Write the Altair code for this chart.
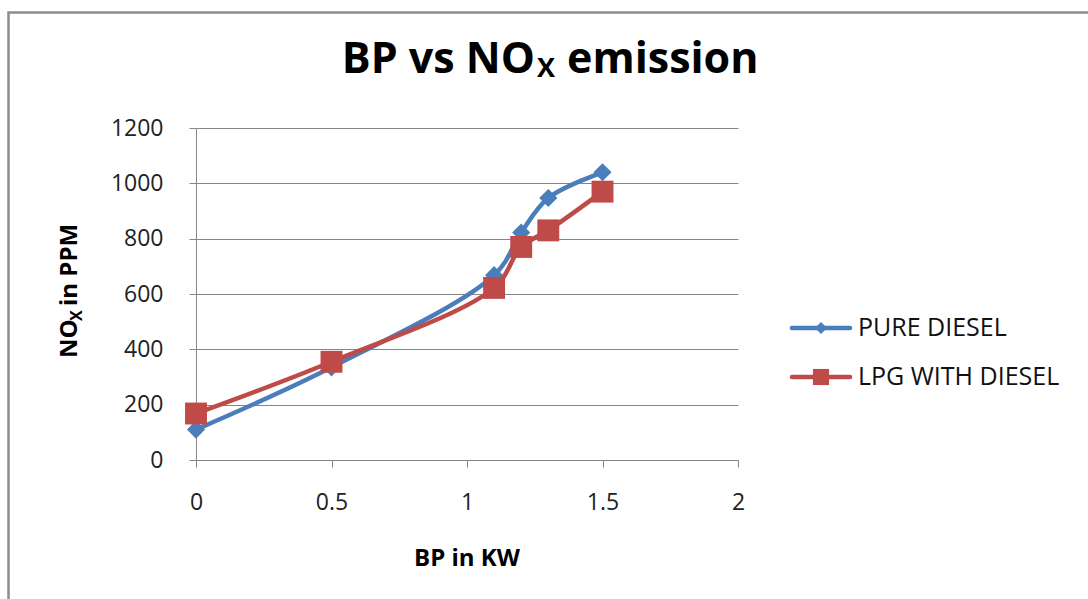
import altair as alt
import pandas as pd

# ---- data ----
bp = [0, 0.5, 1.1, 1.2, 1.3, 1.5]
pure_diesel = [110, 335, 668, 822, 947, 1040]
lpg_with_diesel = [168, 355, 622, 770, 830, 970]
series_names = ["PURE DIESEL", "LPG WITH DIESEL"]
series_colors = ["#4A7EBB", "#BE4B48"]
series_shapes = ["diamond", "square"]
x_ticks = [0, 0.5, 1, 1.5, 2]
y_ticks = [0, 200, 400, 600, 800, 1000, 1200]

rows = []
for name, vals in zip(series_names, [pure_diesel, lpg_with_diesel]):
    for xv, yv in zip(bp, vals):
        rows.append({"BP": xv, "NOx": yv, "series": name})
df = pd.DataFrame(rows)

FONT = "Open Sans"
W, H = 542, 332

xscale = alt.Scale(domain=[0, 2], nice=False)
yscale = alt.Scale(domain=[0, 1200], nice=False)
color = alt.Color("series:N", scale=alt.Scale(domain=series_names, range=series_colors), legend=None)

x_enc = alt.X("BP:Q", scale=xscale, axis=alt.Axis(
    values=x_ticks, grid=False, title=None, tickSize=7, labelPadding=24, format="~g",
    labelFontSize=23, labelFont=FONT, labelColor="#222222",
    domainColor="#868686", tickColor="#868686", labelFlush=False))
y_enc = alt.Y("NOx:Q", scale=yscale, axis=alt.Axis(
    values=y_ticks, grid=True, gridColor="#868686", gridWidth=1, title=None, format="d",
    tickSize=7, labelPadding=26, labelFontSize=23, labelFont=FONT, labelColor="#222222",
    domainColor="#868686", tickColor="#868686"))

base = alt.Chart(df)

lines = base.mark_line(strokeWidth=4.5, interpolate="catmull-rom").encode(
    x=x_enc, y=y_enc, color=color, detail="series:N")

pts_layers = []
for name, shp, sz in zip(series_names, series_shapes, [330, 480]):
    pts_layers.append(
        alt.Chart(df[df["series"] == name]).mark_point(
            shape=shp, filled=True, opacity=1, size=sz).encode(
            x=alt.X("BP:Q", scale=xscale), y=alt.Y("NOx:Q", scale=yscale), color=color))

# outer chart frame
frame = alt.Chart(pd.DataFrame({"a": [0]})).mark_rect(
    fill=None, stroke="#8c8c8c", strokeWidth=2.5).encode(
    x=alt.value(-187.5), x2=alt.value(910), y=alt.value(-115.5), y2=alt.value(500))

def txt(s, x, y, size, bold=True, align="left", angle=0, baseline="alphabetic"):
    kw = dict(text=s, font=FONT, fontSize=size, fontWeight="bold" if bold else "normal",
              align=align, baseline=baseline, color="#000000")
    if angle:
        kw["angle"] = angle
    return alt.Chart(pd.DataFrame({"a": [0]})).mark_text(**kw).encode(
        x=alt.value(x), y=alt.value(y))

# title "BP vs NO_X emission"
title_layers = [
    txt("BP vs NO", 339, -55, 43, align="right"),
    txt("X", 341, -51, 27, align="left"),
    txt("emission", 371, -55, 43, align="left"),
]
# y axis title "NO_X in PPM" (rotated)
ytitle_layers = [
    txt("NO", -119, 230, 24, angle=270, align="left"),
    txt("X", -114, 193, 16, angle=270, align="left"),
    txt("in PPM", -119, 178, 24, angle=270, align="left"),
]
xtitle = txt("BP in KW", 271, 438, 24, align="center")

# legend
legend_layers = []
for i, (name, col, shp, sz) in enumerate(zip(series_names, series_colors, series_shapes, [150, 260])):
    ly = 200 + 49 * i
    one = pd.DataFrame({"series": [name]})
    legend_layers.append(alt.Chart(one).mark_rule(strokeWidth=4.5, color=col, strokeCap="round").encode(
        x=alt.value(596), x2=alt.value(654), y=alt.value(ly)))
    legend_layers.append(alt.Chart(one).mark_point(shape=shp, filled=True, opacity=1, size=sz, color=col).encode(
        x=alt.value(625), y=alt.value(ly)))
    legend_layers.append(alt.Chart(one).mark_text(
        font=FONT, fontSize=25, align="left", baseline="middle", color="#111111").encode(
        x=alt.value(662), y=alt.value(ly), text="series:N"))

chart = alt.layer(
    frame, lines, *pts_layers, *title_layers, *ytitle_layers, xtitle, *legend_layers
).properties(
    width=W, height=H,
    autosize=alt.AutoSizeParams(type="none"),
    padding={"left": 196, "top": 128, "right": 350, "bottom": 139},
    background="white",
).configure_view(stroke=None)

chart.save("out.html", embed_options={"renderer": "svg", "actions": False})
